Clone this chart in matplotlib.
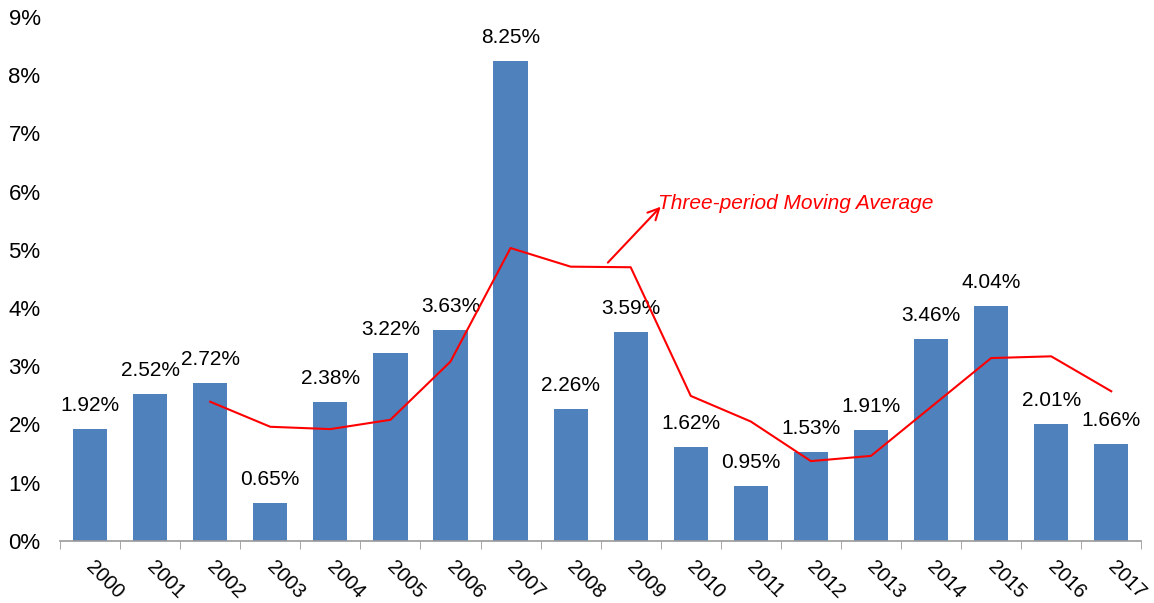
import numpy as np
import matplotlib.pyplot as plt
import matplotlib.transforms as mtransforms
from matplotlib.ticker import FuncFormatter

plt.rcParams['font.family'] = ['Liberation Sans', 'DejaVu Sans']

# data
years = ['2000', '2001', '2002', '2003', '2004', '2005', '2006', '2007', '2008',
         '2009', '2010', '2011', '2012', '2013', '2014', '2015', '2016', '2017']
rates = [1.92, 2.52, 2.72, 0.65, 2.38, 3.22, 3.63, 8.25, 2.26,
         3.59, 1.62, 0.95, 1.53, 1.91, 3.46, 4.04, 2.01, 1.66]
# three-period moving average, starts at 2002
ma_years = years[2:]
ma_vals = [2.39, 1.96, 1.92, 2.08, 3.08, 5.03, 4.71, 4.70, 2.49,
           2.05, 1.37, 1.46, 2.30, 3.14, 3.17, 2.57]

fig = plt.figure(figsize=(11.54, 6.03), dpi=100)
ax = fig.add_axes([0.052, 0.103, 0.937, 0.869])

x = np.arange(len(years))
ax.bar(x, rates, width=0.57, color='#4F81BD', zorder=2)
for xi, v in zip(x, rates):
    ax.text(xi, v + 0.24, '%.2f%%' % v, ha='center', va='bottom', fontsize=15)

xm = np.array([years.index(y) for y in ma_years])
ax.plot(xm, ma_vals, color='red', lw=1.5, zorder=3)

# arrow + label
ax.annotate('', xy=(9.5, 5.74), xytext=(8.62, 4.78),
            arrowprops=dict(arrowstyle='->', color='red', lw=1.5,
                            shrinkA=0, shrinkB=0, mutation_scale=20))
ax.text(9.45, 5.79, 'Three-period Moving Average', fontsize=15, color='red',
        style='italic', ha='left', va='center')

ax.set_xlim(-0.5, len(years) - 0.5)
ax.set_ylim(0, 9)
ax.set_yticks(np.arange(0, 10, 1))
ax.yaxis.set_major_formatter(FuncFormatter(lambda v, p: '%d%%' % v))
ax.tick_params(axis='y', length=0, labelsize=16, pad=14)

ax.set_xticks(x)
ax.set_xticklabels(years, rotation=-45, ha='left', va='top', rotation_mode='anchor', fontsize=14.5)
ax.set_xticks(np.arange(-0.5, len(years)), minor=True)
ax.tick_params(axis='x', which='major', length=0, pad=12)
ax.tick_params(axis='x', which='minor', length=6, color='#999999', direction='out')
shift = mtransforms.ScaledTranslation(6 / 100, 0, fig.dpi_scale_trans)
for lab in ax.get_xticklabels():
    lab.set_transform(lab.get_transform() + shift)

for s in ['top', 'right', 'left']:
    ax.spines[s].set_visible(False)
ax.spines['bottom'].set_color('#999999')
ax.spines['bottom'].set_linewidth(1.2)

fig.savefig('out.png', dpi=100)
